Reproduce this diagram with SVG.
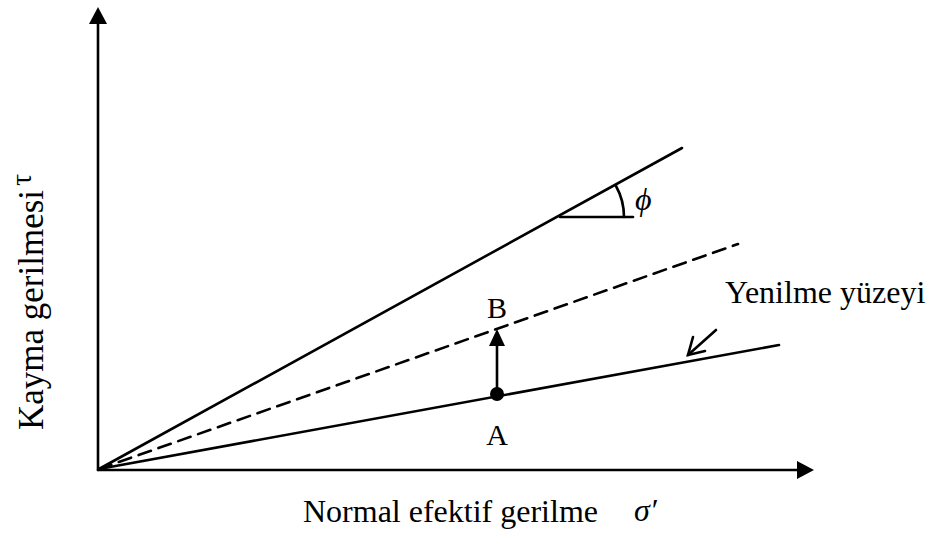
<svg xmlns="http://www.w3.org/2000/svg" width="933" height="539" viewBox="0 0 933 539">
<style>
.ln{stroke:#000;stroke-width:2.6;fill:none;stroke-linecap:round}
.tx{font-family:"Liberation Serif","Times New Roman",serif;fill:#000}
.ah{fill:#000}
</style>
<rect width="933" height="539" fill="#fff"/>
<g id="axes">
<line class="ln" x1="98" y1="470" x2="98" y2="20"/>
<polygon class="ah" points="98,7 89,24 107,24"/>
<line class="ln" x1="98" y1="470" x2="800" y2="470"/>
<polygon class="ah" points="814,470 797,461 797,479"/>
</g>
<g id="connectors">
<line class="ln" x1="99" y1="469" x2="682" y2="148"/>
<line class="ln" x1="99" y1="469" x2="738" y2="244" stroke-dasharray="13 8" stroke-linecap="butt"/>
<line class="ln" x1="99" y1="469" x2="779" y2="345"/>
<line class="ln" x1="560" y1="217" x2="633" y2="217" stroke-width="2"/>
<path class="ln" d="M616,186 A64,64 0 0 1 624,217" stroke-width="2"/>
<line class="ln" x1="497" y1="394" x2="497" y2="344"/>
<polygon class="ah" points="497,329 489,346 505,346"/>
<line class="ln" x1="716" y1="330" x2="688" y2="355" stroke-width="2.4"/>
<polyline class="ln" points="693,337 688,355 705,351" stroke-width="2.4"/>
</g>
<g id="pointA">
<circle cx="497" cy="394" r="7" fill="#000"/>
<text class="tx" x="497" y="445" font-size="30" text-anchor="middle">A</text>
</g>
<g id="pointB">
<text class="tx" x="497" y="318" font-size="30" text-anchor="middle">B</text>
</g>
<g id="labels">
<text class="tx" x="635" y="210" font-size="32" font-style="italic">ϕ</text>
<text class="tx" x="725" y="303" font-size="32">Yenilme yüzeyi</text>
<text class="tx" x="303" y="522" font-size="32">Normal efektif gerilme</text>
<text class="tx" x="634" y="521" font-size="32" font-style="italic">σ′</text>
<text class="tx" transform="translate(43,430) rotate(-90)" font-size="35">Kayma gerilmesi</text>
<text class="tx" transform="translate(31,186) rotate(-90)" font-size="30">τ</text>
</g>
</svg>
